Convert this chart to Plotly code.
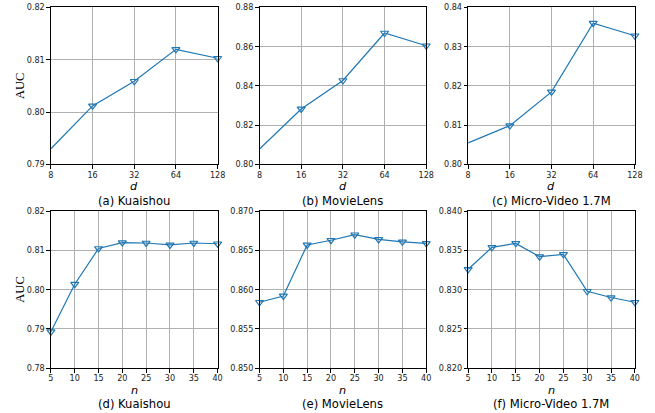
import plotly.graph_objects as go
import numpy as np

# ---- data ----
d_vals = [8, 16, 32, 64, 128]
n_vals = [5, 10, 15, 20, 25, 30, 35, 40]

auc_d_kuaishou = [0.7930, 0.8012, 0.8059, 0.8120, 0.8103]
auc_d_movielens = [0.8079, 0.8283, 0.8428, 0.8670, 0.8605]
auc_d_microvideo = [0.8055, 0.8099, 0.8185, 0.8360, 0.8328]

auc_n_kuaishou = [0.7893, 0.8014, 0.8105, 0.8120, 0.8119, 0.8114, 0.8119, 0.8117]
auc_n_movielens = [0.8584, 0.8592, 0.8657, 0.8663, 0.8670, 0.8664, 0.8661, 0.8659]
auc_n_microvideo = [0.8326, 0.8354, 0.8359, 0.8342, 0.8345, 0.8298, 0.8290, 0.8284]

captions = ["(a) Kuaishou", "(b) MovieLens", "(c) Micro-Video 1.7M",
            "(d) Kuaishou", "(e) MovieLens", "(f) Micro-Video 1.7M"]

y_ranges = [(0.79, 0.82), (0.80, 0.88), (0.80, 0.84),
            (0.78, 0.82), (0.85, 0.87), (0.82, 0.84)]
y_dticks = [0.01, 0.02, 0.01, 0.01, 0.005, 0.005]
y_formats = [".2f", ".2f", ".2f", ".2f", ".3f", ".3f"]

W, H = 655, 413
col_px = [(50, 217), (259, 426), (468, 635)]
row_px = [(5, 163), (210, 368)]

# mapping from target picture pixels to paper pixels (compensates page scaling)
SX, OX = 0.985, 2.0
SY, OY = 0.982, 2.5

def px_x(p):
    return (p - OX) / SX / W

def px_y(p):
    return 1 - (p - OY) / SY / H

BLUE = "#1f77b4"
TICKFONT = dict(family="DejaVu Sans", size=8.1, color="#222222")

fig = go.Figure()
series = [auc_d_kuaishou, auc_d_movielens, auc_d_microvideo,
          auc_n_kuaishou, auc_n_movielens, auc_n_microvideo]

annotations = []
for i in range(6):
    r, c = divmod(i, 3)
    idx = "" if i == 0 else str(i + 1)
    xs = d_vals if r == 0 else n_vals
    fig.add_trace(go.Scatter(
        x=xs, y=series[i], mode="lines+markers",
        line=dict(color=BLUE, width=1.2),
        marker=dict(symbol="triangle-down-open", size=7, color=BLUE, line=dict(width=1.2)),
        xaxis="x" + idx, yaxis="y" + idx, showlegend=False, cliponaxis=False))
    x0, x1 = col_px[c]
    y0, y1 = row_px[r]
    xdom = [px_x(x0), px_x(x1)]
    ydom = [px_y(y1), px_y(y0)]
    common = dict(showline=True, linecolor="black", linewidth=1, mirror=True,
                  showgrid=True, gridcolor="#b0b0b0", gridwidth=1,
                  ticks="outside", ticklen=3.5, tickwidth=0.8, tickcolor="black",
                  tickfont=TICKFONT, zeroline=False)
    if r == 0:
        xax = dict(domain=xdom, type="log", range=[np.log10(8), np.log10(128)],
                   tickvals=d_vals, ticktext=[str(v) for v in d_vals],
                   anchor="y" + idx, ticklabelstandoff=-1, **common)
    else:
        xax = dict(domain=xdom, range=[5, 40], tickvals=n_vals,
                   anchor="y" + idx, ticklabelstandoff=-1, **common)
    yax = dict(domain=ydom, range=list(y_ranges[i]), dtick=y_dticks[i],
               tick0=y_ranges[i][0], tickformat=y_formats[i],
               anchor="x" + idx, **common)
    fig.update_layout(**{"xaxis" + idx: xax, "yaxis" + idx: yax})

    cx = px_x((x0 + x1) / 2)
    annotations.append(dict(text="<i>d</i>" if r == 0 else "<i>n</i>",
                            x=cx, y=px_y(y1 + 22.5), xref="paper", yref="paper",
                            xanchor="center", yanchor="middle", borderpad=0,
                            showarrow=False, font=dict(family="DejaVu Sans", size=11.3, color="black")))
    annotations.append(dict(text=captions[i], x=cx, y=px_y(y1 + 36.5),
                            xref="paper", yref="paper", showarrow=False,
                            xanchor="center", yanchor="middle", borderpad=0,
                            font=dict(family="DejaVu Sans", size=11.6, color="black")))
    if c == 0:
        annotations.append(dict(text="AUC", x=px_x(19), y=px_y((y0 + y1) / 2),
                                xref="paper", yref="paper", showarrow=False, textangle=-90,
                                xanchor="center", yanchor="middle",
                                font=dict(family="Liberation Serif", size=12.5, color="black")))

fig.update_layout(width=W, height=H, margin=dict(l=0, r=0, t=0, b=0),
                  paper_bgcolor="white", plot_bgcolor="white",
                  annotations=annotations)

fig.write_html(
    "out.html", config={"displayModeBar": False},
    post_script=("document.documentElement.style.overflow='hidden';"
                 "document.body.style.margin='0';document.body.style.overflow='hidden';"
                 "var g=document.querySelector('.plotly-graph-div');"
                 "g.style.position='fixed';g.style.left='0px';g.style.top='0px';"))
